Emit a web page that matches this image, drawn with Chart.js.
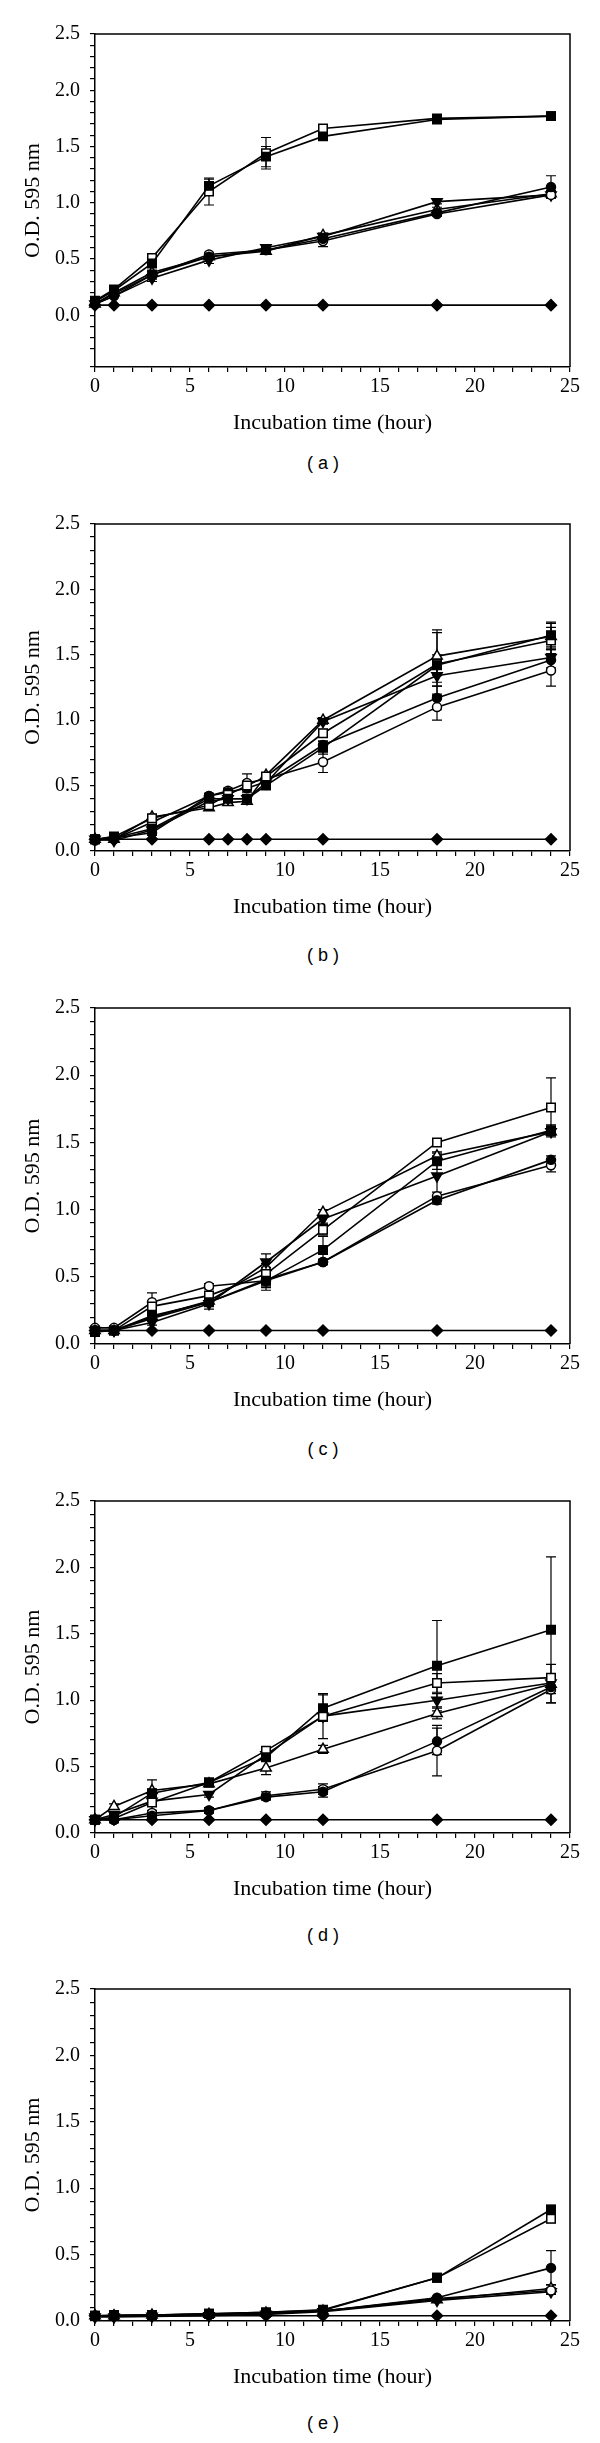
<!DOCTYPE html>
<html>
<head>
<meta charset="utf-8">
<script src="https://cdn.jsdelivr.net/npm/chart.js@4.4.0/dist/chart.umd.min.js"></script>
<style>
body { margin: 0; background: #fff; width: 600px; height: 2443px; position: relative; overflow: hidden; }
.panel { position: absolute; left: 0; width: 600px; }
.caption { position: absolute; font-family: "Liberation Sans", Arial, sans-serif; font-size: 18px; color: #000; transform: translate(-50%, -50%); white-space: pre; }
</style>
</head>
<body>
<script>
// sampling times (hours)
var hoursA = [0, 1, 3, 6, 9, 12, 18, 24];
var hoursB = [0, 1, 3, 6, 7, 8, 9, 12, 18, 24];

// panel (a)
var aControl    = [0.09, 0.09, 0.09, 0.09, 0.09, 0.09, 0.09, 0.09];
var aSqFilled   = [0.12, 0.22, 0.46, 1.15, 1.41, 1.59, 1.74, 1.77];
var aSqOpen     = [0.13, 0.23, 0.51, 1.10, 1.44, 1.66, 1.75, 1.77];
var aCircFilled = [0.10, 0.17, 0.36, 0.52, 0.58, 0.68, 0.91, 1.14];
var aCircOpen   = [0.10, 0.19, 0.36, 0.54, 0.58, 0.66, 0.90, 1.07];
var aTriDown    = [0.10, 0.17, 0.33, 0.49, 0.60, 0.70, 1.01, 1.07];
var aTriOpen    = [0.10, 0.20, 0.38, 0.52, 0.57, 0.71, 0.94, 1.08];
var aSqFilledErr   = [0, 0.02, 0.03, 0.06, 0.09, 0.02, 0.01, 0.01];
var aSqOpenErr     = [0.01, 0.03, 0.03, 0.12, 0.14, 0.02, 0.01, 0.01];
var aCircFilledErr = [0, 0, 0.03, 0.02, 0.02, 0.02, 0.01, 0.10];
var aCircOpenErr   = [0, 0, 0.04, 0.02, 0.02, 0.05, 0.02, 0.02];
var aTriDownErr    = [0, 0, 0.03, 0.03, 0.02, 0.02, 0.02, 0.03];
var aTriOpenErr    = [0, 0, 0.02, 0.02, 0.02, 0.02, 0.02, 0.03];

// panel (b)
var bControl    = [0.09, 0.09, 0.09, 0.09, 0.09, 0.09, 0.09, 0.09, 0.09, 0.09];
var bSqFilled   = [0.09, 0.10, 0.17, 0.40, 0.40, 0.40, 0.50, 0.79, 1.42, 1.65];
var bSqOpen     = [0.09, 0.11, 0.25, 0.35, 0.43, 0.50, 0.57, 0.90, 1.43, 1.61];
var bCircFilled = [0.09, 0.10, 0.14, 0.42, 0.45, 0.48, 0.53, 0.81, 1.17, 1.46];
var bCircOpen   = [0.08, 0.09, 0.22, 0.42, 0.46, 0.52, 0.55, 0.68, 1.10, 1.38];
var bTriDown    = [0.09, 0.08, 0.16, 0.38, 0.40, 0.40, 0.52, 0.99, 1.34, 1.48];
var bTriOpen    = [0.09, 0.09, 0.26, 0.33, 0.37, 0.38, 0.58, 1.00, 1.49, 1.64];
var bSqFilledErr   = [0, 0, 0.02, 0.02, 0.02, 0.03, 0.02, 0.05, 0.08, 0.10];
var bSqOpenErr     = [0, 0, 0.02, 0.02, 0.02, 0.03, 0.02, 0.03, 0.24, 0.10];
var bCircFilledErr = [0, 0, 0.02, 0.02, 0.02, 0.02, 0.02, 0.03, 0.09, 0.08];
var bCircOpenErr   = [0, 0, 0.02, 0.02, 0.02, 0.07, 0.02, 0.08, 0.10, 0.12];
var bTriDownErr    = [0, 0, 0.02, 0.02, 0.02, 0.02, 0.02, 0.02, 0.08, 0.08];
var bTriOpenErr    = [0, 0, 0.02, 0.02, 0.02, 0.02, 0.02, 0.02, 0.20, 0.10];

// panel (c)
var cControl    = [0.10, 0.10, 0.10, 0.10, 0.10, 0.10, 0.10, 0.10];
var cSqFilled   = [0.09, 0.10, 0.21, 0.31, 0.47, 0.70, 1.36, 1.59];
var cSqOpen     = [0.10, 0.10, 0.28, 0.36, 0.52, 0.85, 1.50, 1.76];
var cCircFilled = [0.10, 0.10, 0.19, 0.31, 0.48, 0.61, 1.07, 1.37];
var cCircOpen   = [0.12, 0.12, 0.31, 0.43, 0.47, 0.61, 1.10, 1.33];
var cTriDown    = [0.10, 0.10, 0.16, 0.30, 0.61, 0.93, 1.25, 1.58];
var cTriOpen    = [0.10, 0.10, 0.20, 0.32, 0.57, 0.98, 1.40, 1.58];
var cSqFilledErr   = [0, 0, 0.02, 0.02, 0.05, 0.10, 0.06, 0.04];
var cSqOpenErr     = [0, 0, 0.02, 0.03, 0.05, 0.04, 0.02, 0.22];
var cCircFilledErr = [0, 0, 0.02, 0.02, 0.05, 0.02, 0.03, 0.03];
var cCircOpenErr   = [0, 0, 0.07, 0.02, 0.07, 0.02, 0.03, 0.05];
var cTriDownErr    = [0, 0, 0.02, 0.04, 0.06, 0.03, 0.15, 0.03];
var cTriOpenErr    = [0, 0, 0.02, 0.02, 0.03, 0.02, 0.03, 0.03];

// panel (d)
var dControl    = [0.10, 0.10, 0.10, 0.10, 0.10, 0.10, 0.10, 0.10];
var dSqFilled   = [0.10, 0.12, 0.30, 0.38, 0.57, 0.94, 1.26, 1.53];
var dSqOpen     = [0.10, 0.11, 0.23, 0.38, 0.62, 0.88, 1.13, 1.17];
var dCircFilled = [0.10, 0.10, 0.13, 0.17, 0.27, 0.31, 0.69, 1.10];
var dCircOpen   = [0.10, 0.10, 0.15, 0.17, 0.28, 0.33, 0.62, 1.08];
var dTriDown    = [0.10, 0.14, 0.24, 0.29, 0.59, 0.88, 1.00, 1.13];
var dTriOpen    = [0.10, 0.20, 0.32, 0.37, 0.49, 0.63, 0.90, 1.12];
var dSqFilledErr   = [0, 0.02, 0.03, 0.02, 0.03, 0.10, 0.34, 0.55];
var dSqOpenErr     = [0, 0.02, 0.02, 0.02, 0.02, 0.17, 0.07, 0.10];
var dCircFilledErr = [0, 0, 0.02, 0.02, 0.02, 0.04, 0.10, 0.05];
var dCircOpenErr   = [0, 0, 0.02, 0.02, 0.03, 0.04, 0.19, 0.10];
var dTriDownErr    = [0, 0.02, 0.03, 0.02, 0.02, 0.03, 0.05, 0.05];
var dTriOpenErr    = [0, 0.02, 0.08, 0.02, 0.05, 0.03, 0.04, 0.05];

// panel (e)
var eControl    = [0.04, 0.04, 0.04, 0.04, 0.04, 0.04, 0.04, 0.04];
var eSqFilled   = [0.04, 0.04, 0.045, 0.055, 0.065, 0.08, 0.325, 0.84];
var eSqOpen     = [0.04, 0.045, 0.045, 0.055, 0.065, 0.085, 0.325, 0.77];
var eCircFilled = [0.04, 0.04, 0.04, 0.05, 0.06, 0.075, 0.175, 0.40];
var eCircOpen   = [0.04, 0.04, 0.045, 0.05, 0.06, 0.075, 0.17, 0.23];
var eTriDown    = [0.03, 0.03, 0.035, 0.04, 0.05, 0.07, 0.155, 0.22];
var eTriOpen    = [0.04, 0.04, 0.045, 0.05, 0.06, 0.075, 0.16, 0.245];
var eSqFilledErr   = [0, 0, 0, 0, 0, 0, 0.01, 0.03];
var eSqOpenErr     = [0, 0, 0, 0, 0, 0, 0.01, 0.03];
var eCircFilledErr = [0, 0, 0, 0, 0, 0, 0.01, 0.13];
var eCircOpenErr   = [0, 0, 0, 0, 0, 0, 0.01, 0.02];
var eTriDownErr    = [0, 0, 0, 0, 0, 0, 0.01, 0.02];
var eTriOpenErr    = [0, 0, 0, 0, 0, 0, 0.01, 0.03];

var xTitle = 'Incubation time (hour)';
var yTitle = 'O.D. 595 nm';

// marker for each series: control, ■, □, ●, ○, ▼, △
var markers = [
    { style: 'rectRot',  radius: 5.5, fill: '#000', rotation: 0 },
    { style: 'rect',     radius: 6,   fill: '#000', rotation: 0 },
    { style: 'rect',     radius: 6,   fill: '#fff', rotation: 0 },
    { style: 'circle',   radius: 4.5, fill: '#000', rotation: 0 },
    { style: 'circle',   radius: 4.5, fill: '#fff', rotation: 0 },
    { style: 'triangle', radius: 6,   fill: '#000', rotation: 180 },
    { style: 'triangle', radius: 6,   fill: '#fff', rotation: 0 }
];

var panels = [
    { label: 'a', top: 32, bottom: 367, yMin: -0.46, caption: 463, hours: hoursA,
      series: [aControl, aSqFilled, aSqOpen, aCircFilled, aCircOpen, aTriDown, aTriOpen],
      errors: [null, aSqFilledErr, aSqOpenErr, aCircFilledErr, aCircOpenErr, aTriDownErr, aTriOpenErr] },
    { label: 'b', top: 522, bottom: 851, yMin: 0, caption: 955, hours: hoursB,
      series: [bControl, bSqFilled, bSqOpen, bCircFilled, bCircOpen, bTriDown, bTriOpen],
      errors: [null, bSqFilledErr, bSqOpenErr, bCircFilledErr, bCircOpenErr, bTriDownErr, bTriOpenErr] },
    { label: 'c', top: 1006, bottom: 1344, yMin: 0, caption: 1449, hours: hoursA,
      series: [cControl, cSqFilled, cSqOpen, cCircFilled, cCircOpen, cTriDown, cTriOpen],
      errors: [null, cSqFilledErr, cSqOpenErr, cCircFilledErr, cCircOpenErr, cTriDownErr, cTriOpenErr] },
    { label: 'd', top: 1499, bottom: 1833, yMin: 0, caption: 1935, hours: hoursA,
      series: [dControl, dSqFilled, dSqOpen, dCircFilled, dCircOpen, dTriDown, dTriOpen],
      errors: [null, dSqFilledErr, dSqOpenErr, dCircFilledErr, dCircOpenErr, dTriDownErr, dTriOpenErr] },
    { label: 'e', top: 1987, bottom: 2321, yMin: 0, caption: 2423, hours: hoursA,
      series: [eControl, eSqFilled, eSqOpen, eCircFilled, eCircOpen, eTriDown, eTriOpen],
      errors: [null, eSqFilledErr, eSqOpenErr, eCircFilledErr, eCircOpenErr, eTriDownErr, eTriOpenErr] }
];

Chart.defaults.font.family = '"Liberation Serif", "Times New Roman", serif';
Chart.defaults.color = '#000';

// top and right edges of the box
var framePlugin = {
    id: 'frame',
    beforeDatasetsDraw: function (chart) {
        var a = chart.chartArea, ctx = chart.ctx;
        ctx.save();
        ctx.strokeStyle = '#000';
        ctx.lineWidth = 1.5;
        ctx.beginPath();
        ctx.moveTo(a.left, a.top);
        ctx.lineTo(a.right, a.top);
        ctx.lineTo(a.right, a.bottom);
        ctx.stroke();
        ctx.restore();
    }
};

var errorBarPlugin = {
    id: 'errorBars',
    beforeDatasetsDraw: function (chart) {
        var ctx = chart.ctx, xs = chart.scales.x, ys = chart.scales.y;
        ctx.save();
        ctx.strokeStyle = '#000';
        ctx.lineWidth = 1.2;
        chart.data.datasets.forEach(function (ds) {
            if (!ds.errors) return;
            ds.data.forEach(function (p, i) {
                var e = ds.errors[i];
                if (!e) return;
                var x = xs.getPixelForValue(p.x);
                var y1 = ys.getPixelForValue(p.y + e);
                var y2 = ys.getPixelForValue(p.y - e);
                ctx.beginPath();
                ctx.moveTo(x, y1); ctx.lineTo(x, y2);
                ctx.moveTo(x - 5, y1); ctx.lineTo(x + 5, y1);
                ctx.moveTo(x - 5, y2); ctx.lineTo(x + 5, y2);
                ctx.stroke();
            });
        });
        ctx.restore();
    }
};

panels.forEach(function (panel) {
    var padTop = 20, xHeight = 70;
    var div = document.createElement('div');
    div.className = 'panel';
    div.style.top = (panel.top - padTop) + 'px';
    var canvas = document.createElement('canvas');
    canvas.width = 600;
    canvas.height = padTop + (panel.bottom - panel.top) + xHeight;
    div.appendChild(canvas);
    document.body.appendChild(div);

    var cap = document.createElement('div');
    cap.className = 'caption';
    cap.style.left = '323px';
    cap.style.top = panel.caption + 'px';
    cap.textContent = '( ' + panel.label + ' )';
    document.body.appendChild(cap);

    var datasets = panel.series.map(function (values, k) {
        var m = markers[k];
        return {
            data: values.map(function (v, i) { return { x: panel.hours[i], y: v }; }),
            errors: panel.errors[k],
            borderColor: '#000',
            borderWidth: 1.6,
            tension: 0,
            fill: false,
            clip: false,
            pointStyle: m.style,
            pointRadius: m.radius,
            pointRotation: m.rotation,
            pointBackgroundColor: m.fill,
            pointBorderColor: '#000',
            pointBorderWidth: 1.5
        };
    });

    new Chart(canvas.getContext('2d'), {
        type: 'line',
        data: { datasets: datasets },
        options: {
            responsive: false,
            animation: false,
            events: [],
            layout: { padding: { top: padTop, left: 0, right: 30, bottom: 0 } },
            plugins: { legend: { display: false }, tooltip: { enabled: false } },
            scales: {
                x: {
                    type: 'linear', min: 0, max: 25,
                    ticks: {
                        stepSize: 1, autoSkip: false, maxRotation: 0, padding: 3,
                        font: { size: 20 }, color: '#000',
                        callback: function (v) { return v % 5 === 0 ? String(v) : ''; }
                    },
                    grid: { drawOnChartArea: false, drawTicks: true, tickLength: 5, color: '#000', lineWidth: 1.2 },
                    border: { color: '#000', width: 1.5 },
                    title: { display: true, text: xTitle, font: { size: 22 }, color: '#000', padding: { top: 0, bottom: 1 } },
                    afterFit: function (s) { s.height = xHeight; }
                },
                y: {
                    min: panel.yMin, max: 2.5,
                    ticks: {
                        stepSize: 0.1, autoSkip: false, padding: 10,
                        font: { size: 20 }, color: '#000',
                        callback: function (v) {
                            var d = v * 2;
                            return (v > -1e-9 && Math.abs(d - Math.round(d)) < 1e-6) ? v.toFixed(1) : '';
                        }
                    },
                    grid: { drawOnChartArea: false, drawTicks: true, tickLength: 5, color: '#000', lineWidth: 1.2 },
                    border: { color: '#000', width: 1.5 },
                    title: { display: true, text: yTitle, font: { size: 22 }, color: '#000', padding: { top: 20, bottom: 0 } },
                    afterFit: function (s) { s.width = 95; }
                }
            }
        },
        plugins: [framePlugin, errorBarPlugin]
    });
});
</script>
</body>
</html>
